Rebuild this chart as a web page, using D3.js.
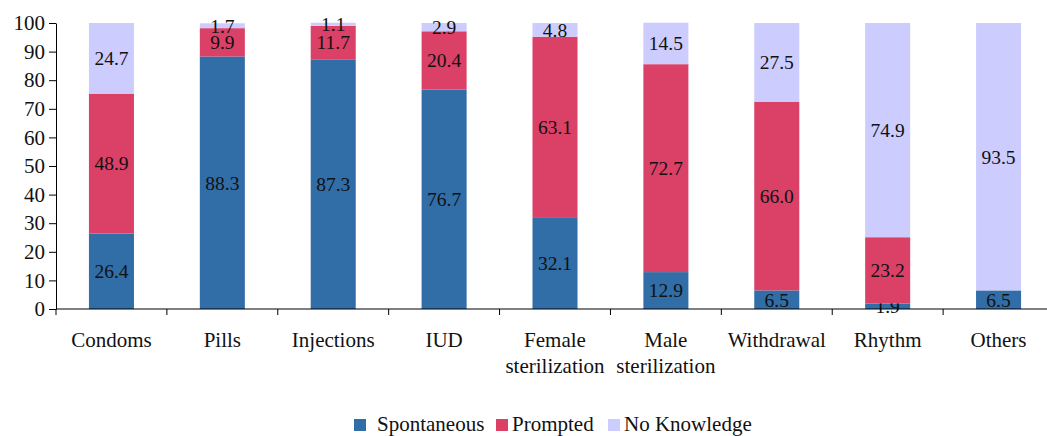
<!DOCTYPE html>
<html>
<head>
<meta charset="utf-8">
<script src="https://cdn.jsdelivr.net/npm/d3@7"></script>
<style>
  body { margin: 0; background: #fff; }
  svg text { font-family: "Liberation Serif", "Times New Roman", Times, "DejaVu Serif", serif !important; }
  .axis path, .axis line { stroke: #000; }
</style>
</head>
<body>
<svg></svg>
<script>
// Chart size
var w = 1047;
var h = 436;

// Data
var categories = ["Condoms", "Pills", "Injections", "IUD", "Female\nsterilization",
    "Male\nsterilization", "Withdrawal", "Rhythm", "Others"];
var spontaneous = [26.4, 88.3, 87.3, 76.7, 32.1, 12.9, 6.5, 1.9, 6.5];
var prompted = [48.9, 9.9, 11.7, 20.4, 63.1, 72.7, 66.0, 23.2, 0];
var noKnowledge = [24.7, 1.7, 1.1, 2.9, 4.8, 14.5, 27.5, 74.9, 93.5];
var seriesNames = ["Spontaneous", "Prompted", "No Knowledge"];
var yTicks = [0, 10, 20, 30, 40, 50, 60, 70, 80, 90, 100];

var colors = ["#316da6", "#db4067", "#ccccff"];

var svg = d3.select("svg")
    .attr("width", w)
    .attr("height", h);

// build rows for the stack
var rows = categories.map(function (c, i) {
    return { cat: c, Spontaneous: spontaneous[i], Prompted: prompted[i], "No Knowledge": noKnowledge[i] };
});

var stack = d3.stack().keys(seriesNames);
var layers = stack(rows);

var x = d3.scaleBand()
    .domain(categories)
    .range([56, 1054])
    .padding(0);

var y = d3.scaleLinear()
    .domain([0, 100])
    .range([309, 23]);

var barW = x.bandwidth() * 0.406;

// bars
var layer = svg.selectAll(".layer")
    .data(layers)
    .enter().append("g")
    .attr("class", "layer")
    .attr("fill", function (d, i) { return colors[i]; });

layer.selectAll("rect")
    .data(function (d) { return d; })
    .enter().append("rect")
    .attr("x", function (d) { return x(d.data.cat) + x.bandwidth() / 2 - barW / 2; })
    .attr("y", function (d) { return y(d[1]); })
    .attr("width", barW)
    .attr("height", function (d) { return y(d[0]) - y(d[1]); });

// value labels
layer.selectAll("text")
    .data(function (d) { return d.filter(function (p) { return p[1] - p[0] > 0; }); })
    .enter().append("text")
    .attr("x", function (d) { return x(d.data.cat) + x.bandwidth() / 2; })
    .attr("y", function (d) { return y((d[0] + d[1]) / 2); })
    .attr("dy", "0.35em")
    .attr("text-anchor", "middle")
    .attr("fill", "#111")
    .style("font-size", "19.5px")
    .text(function (d) { return (d[1] - d[0]).toFixed(1); });

// y axis
var yAxis = svg.append("g")
    .attr("class", "axis")
    .attr("transform", "translate(56,0)")
    .call(d3.axisLeft(y).tickValues(yTicks).tickSize(7).tickSizeOuter(0).tickPadding(4));
yAxis.selectAll("text")
    .attr("fill", "#111")
    .style("font-size", "21px");

// x axis: line plus ticks at band edges
var xAxis = svg.append("g").attr("class", "axis");
xAxis.append("line")
    .attr("x1", 56).attr("x2", w)
    .attr("y1", y(0)).attr("y2", y(0));
xAxis.selectAll(".xt")
    .data(categories)
    .enter().append("line")
    .attr("class", "xt")
    .attr("x1", function (d) { return x(d); })
    .attr("x2", function (d) { return x(d); })
    .attr("y1", y(0))
    .attr("y2", y(0) + 6);

var catLabels = xAxis.selectAll(".cl")
    .data(categories)
    .enter().append("text")
    .attr("class", "cl")
    .attr("text-anchor", "middle")
    .attr("fill", "#111")
    .style("font-size", "21px")
    .attr("x", function (d) { return x(d) + x.bandwidth() / 2; })
    .attr("y", 347);
catLabels.selectAll("tspan")
    .data(function (d) { return d.split("\n"); })
    .enter().append("tspan")
    .attr("x", function () { return d3.select(this.parentNode).attr("x"); })
    .attr("dy", function (d, i) { return i === 0 ? 0 : 26; })
    .text(function (d) { return d; });

// legend
var legendX = [354, 496, 608];
var legend = svg.selectAll(".legend")
    .data(seriesNames)
    .enter().append("g")
    .attr("class", "legend")
    .attr("transform", function (d, i) { return "translate(" + legendX[i] + ",419)"; });
legend.append("rect")
    .attr("width", 12)
    .attr("height", 12)
    .attr("fill", function (d, i) { return colors[i]; });
legend.append("text")
    .attr("x", function (d, i) { return i === 0 ? 23 : 16; })
    .attr("y", 12)
    .attr("fill", "#111")
    .style("font-size", "21px")
    .text(function (d) { return d; });
</script>
</body>
</html>
